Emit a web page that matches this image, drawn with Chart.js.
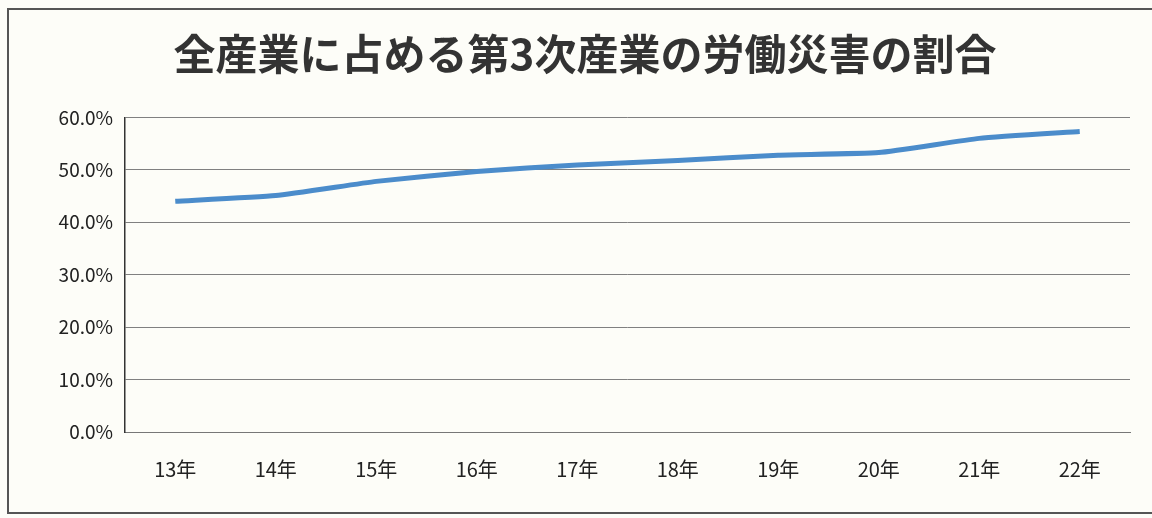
<!DOCTYPE html>
<html>
<head>
<meta charset="utf-8">
<script src="https://cdn.jsdelivr.net/npm/chart.js@4/dist/chart.umd.min.js"></script>
<style>
  html, body { margin: 0; padding: 0; background: #fdfdf8; }
  #wrap { position: relative; width: 1152px; height: 518px; }
  #frame { position: absolute; left: 7px; top: 8px; width: 1160px; height: 506px; border: 2px solid #555; box-sizing: border-box; pointer-events: none; }
</style>
</head>
<body>
<div id="wrap">
  <canvas id="chart" width="1152" height="518"></canvas>
  <div id="frame"></div>
</div>
<script>
const years = ["13年", "14年", "15年", "16年", "17年", "18年", "19年", "20年", "21年", "22年"];
const shares = [44.0, 45.1, 47.8, 49.7, 50.9, 51.8, 52.8, 53.3, 56.0, 57.3];
const titleText = "全産業に占める第3次産業の労働災害の割合";

const font = "'Noto Sans CJK JP', 'Noto Sans', sans-serif";

const ctx = document.getElementById("chart").getContext("2d");
new Chart(ctx, {
  type: "line",
  data: {
    labels: years,
    datasets: [{
      data: shares,
      borderColor: "#4b8ccb",
      borderWidth: 5,
      pointRadius: 0,
      tension: 0.15,
      fill: false
    }]
  },
  options: {
    responsive: false,
    animation: false,
    layout: { padding: { left: 40, right: 22, top: 0, bottom: 0 } },
    plugins: {
      legend: { display: false },
      tooltip: { enabled: false },
      title: {
        display: true,
        text: titleText,
        color: "#333",
        font: { family: font, size: 42, weight: "bold", lineHeight: 1.2 },
        padding: { top: 29, bottom: 38 }
      }
    },
    scales: {
      x: {
        offset: true,
        grid: { display: false, drawTicks: false },
        border: { color: "#777", width: 1 },
        ticks: { color: "#222", font: { family: font, size: 20 }, padding: 25 },
        afterFit: s => { s.height = 86; }
      },
      y: {
        min: 0,
        max: 60,
        ticks: {
          stepSize: 10,
          color: "#222",
          font: { family: font, size: 19 },
          padding: 12,
          callback: v => v.toFixed(1) + "%"
        },
        grid: { color: "#808080", lineWidth: 1, drawTicks: false },
        border: { color: "#333", width: 1.5 },
        afterFit: s => { s.width = 85; }
      }
    }
  }
});
</script>
</body>
</html>
